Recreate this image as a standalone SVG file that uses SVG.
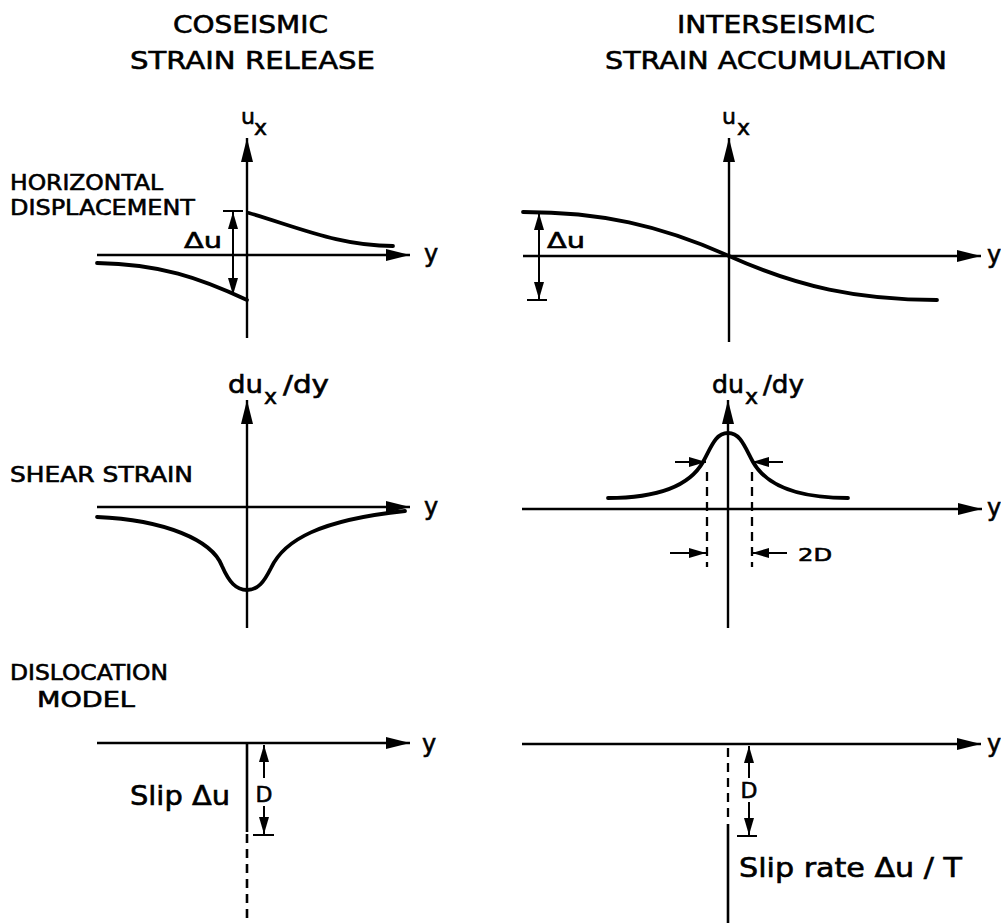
<svg xmlns="http://www.w3.org/2000/svg" width="1001" height="923" viewBox="0 0 1001 923">
<style>
text{font-family:"DejaVu Sans","Liberation Sans",sans-serif;fill:#000;stroke:#000;stroke-width:0.6}
.t{font-size:25px}
.r{font-size:21px}
.l{font-size:22px}
.ax{stroke:#000;stroke-width:2.4;fill:none}
.cv{stroke:#000;stroke-width:3.8;fill:none;stroke-linecap:round}
.dm{stroke:#000;stroke-width:2;fill:none}
.ds{stroke:#000;stroke-width:2.3;fill:none;stroke-dasharray:9 6}
</style>
<defs>
<marker id="big" markerUnits="userSpaceOnUse" markerWidth="26" markerHeight="14" refX="24" refY="6" orient="auto"><path d="M0,0 L24,6 L0,12 Z" fill="#000"/></marker>
<marker id="sm" markerUnits="userSpaceOnUse" markerWidth="20" markerHeight="10" refX="17" refY="5" orient="auto"><path d="M0,0 L17,5 L0,10 Z" fill="#000"/></marker>
</defs>
<g id="titles">
<text class="t" x="173" y="33" textLength="155" lengthAdjust="spacingAndGlyphs">COSEISMIC</text>
<text class="t" x="130" y="69" textLength="245" lengthAdjust="spacingAndGlyphs">STRAIN RELEASE</text>
<text class="t" x="677" y="33" textLength="198" lengthAdjust="spacingAndGlyphs">INTERSEISMIC</text>
<text class="t" x="605" y="69" textLength="342" lengthAdjust="spacingAndGlyphs">STRAIN ACCUMULATION</text>
</g>
<g id="row-labels">
<text class="r" x="10" y="190" textLength="153" lengthAdjust="spacingAndGlyphs">HORIZONTAL</text>
<text class="r" x="10" y="215" textLength="185" lengthAdjust="spacingAndGlyphs">DISPLACEMENT</text>
<text class="r" x="10" y="482" textLength="183" lengthAdjust="spacingAndGlyphs">SHEAR STRAIN</text>
<text class="r" x="10" y="680" textLength="158" lengthAdjust="spacingAndGlyphs">DISLOCATION</text>
<text class="r" x="37" y="707" textLength="98" lengthAdjust="spacingAndGlyphs">MODEL</text>
</g>
<g id="coseismic-displacement">
<line class="ax" x1="247" y1="338" x2="247" y2="138" marker-end="url(#big)"/>
<line class="ax" x1="97" y1="255" x2="410" y2="255" marker-end="url(#big)"/>
<path class="cv" d="M249,213 C300,228 340,246 393,246"/>
<path class="cv" d="M97,263 C160,264 200,278 247,300"/>
<line class="dm" x1="223" y1="211" x2="243" y2="211"/>
<line class="dm" x1="233" y1="255" x2="233" y2="212" marker-end="url(#sm)"/>
<line class="dm" x1="233" y1="255" x2="233" y2="295" marker-end="url(#sm)"/>
<text class="l" x="184" y="248" textLength="38" lengthAdjust="spacingAndGlyphs">Δu</text>
<text class="l" x="241" y="124">u</text>
<text class="l" x="254" y="135">x</text>
<text x="424" y="262" style="font-size:24px">y</text>
</g>
<g id="interseismic-displacement">
<line class="ax" x1="729" y1="342" x2="729" y2="138" marker-end="url(#big)"/>
<line class="ax" x1="523" y1="256" x2="981" y2="256" marker-end="url(#big)"/>
<path class="cv" d="M523,212 C600,212 660,225 729,256 C798,287 858,300 937,300"/>
<line class="dm" x1="527" y1="300" x2="547" y2="300"/>
<line class="dm" x1="539" y1="256" x2="539" y2="213" marker-end="url(#sm)"/>
<line class="dm" x1="539" y1="256" x2="539" y2="299" marker-end="url(#sm)"/>
<text class="l" x="547" y="248" textLength="38" lengthAdjust="spacingAndGlyphs">Δu</text>
<text class="l" x="722" y="124">u</text>
<text class="l" x="737" y="135">x</text>
<text x="987" y="263" style="font-size:24px">y</text>
</g>
<g id="coseismic-strain">
<line class="ax" x1="247" y1="628" x2="247" y2="400" marker-end="url(#big)"/>
<line class="ax" x1="97" y1="507" x2="410" y2="507" marker-end="url(#big)"/>
<path class="cv" d="M97,517 C165,520 212,540 222,566 C229,582 236,590 247,590 C258,590 264,582 271,568 C284,540 320,520 405,511"/>
<text x="228" y="393" style="font-size:24px" textLength="35" lengthAdjust="spacingAndGlyphs">du</text>
<text class="l" x="264" y="404">x</text>
<text x="283" y="393" style="font-size:24px" textLength="46" lengthAdjust="spacingAndGlyphs">/dy</text>
<text x="424" y="515" style="font-size:24px">y</text>
</g>
<g id="interseismic-strain">
<line class="ax" x1="728" y1="628" x2="728" y2="400" marker-end="url(#big)"/>
<line class="ax" x1="522" y1="509" x2="982" y2="509" marker-end="url(#big)"/>
<path class="cv" d="M608,498 C660,498 690,485 703,462 C712,445 716,433 728,433 C740,433 744,445 753,462 C766,485 796,498 848,498"/>
<line class="dm" x1="675" y1="462" x2="706" y2="462" marker-end="url(#sm)"/>
<line class="dm" x1="783" y1="462" x2="752" y2="462" marker-end="url(#sm)"/>
<line class="ds" x1="707" y1="472" x2="707" y2="567"/>
<line class="ds" x1="752" y1="472" x2="752" y2="567"/>
<line class="dm" x1="670" y1="553" x2="706" y2="553" marker-end="url(#sm)"/>
<line class="dm" x1="787" y1="553" x2="752" y2="553" marker-end="url(#sm)"/>
<text x="798" y="561" style="font-size:18px" textLength="34" lengthAdjust="spacingAndGlyphs">2D</text>
<text x="712" y="393" style="font-size:24px" textLength="32" lengthAdjust="spacingAndGlyphs">du</text>
<text class="l" x="745" y="404">x</text>
<text x="763" y="393" style="font-size:24px" textLength="41" lengthAdjust="spacingAndGlyphs">/dy</text>
<text x="987" y="516" style="font-size:24px">y</text>
</g>
<g id="coseismic-dislocation">
<line class="ax" x1="97" y1="743" x2="410" y2="743" marker-end="url(#big)"/>
<line class="ax" x1="247" y1="743" x2="247" y2="832" style="stroke-width:2.6"/>
<line class="ds" x1="247" y1="834" x2="247" y2="923" style="stroke-width:2.6"/>
<line class="dm" x1="264" y1="778" x2="264" y2="745" marker-end="url(#sm)"/>
<line class="dm" x1="264" y1="806" x2="264" y2="834" marker-end="url(#sm)"/>
<line class="dm" x1="253" y1="835" x2="274" y2="835"/>
<text class="l" x="264" y="802" text-anchor="middle">D</text>
<text x="130" y="805" style="font-size:26px" textLength="100" lengthAdjust="spacingAndGlyphs">Slip Δu</text>
<text x="422" y="752" style="font-size:24px">y</text>
</g>
<g id="interseismic-dislocation">
<line class="ax" x1="522" y1="744" x2="981" y2="744" marker-end="url(#big)"/>
<line class="ds" x1="728" y1="748" x2="728" y2="822"/>
<line class="ax" x1="728" y1="824" x2="728" y2="923" style="stroke-width:2.6"/>
<line class="dm" x1="749" y1="778" x2="749" y2="746" marker-end="url(#sm)"/>
<line class="dm" x1="749" y1="802" x2="749" y2="835" marker-end="url(#sm)"/>
<line class="dm" x1="737" y1="836" x2="757" y2="836"/>
<text class="l" x="749" y="798" text-anchor="middle">D</text>
<text x="739" y="877" style="font-size:26px" textLength="223" lengthAdjust="spacingAndGlyphs">Slip rate Δu / T</text>
<text x="987" y="752" style="font-size:24px">y</text>
</g>
</svg>
